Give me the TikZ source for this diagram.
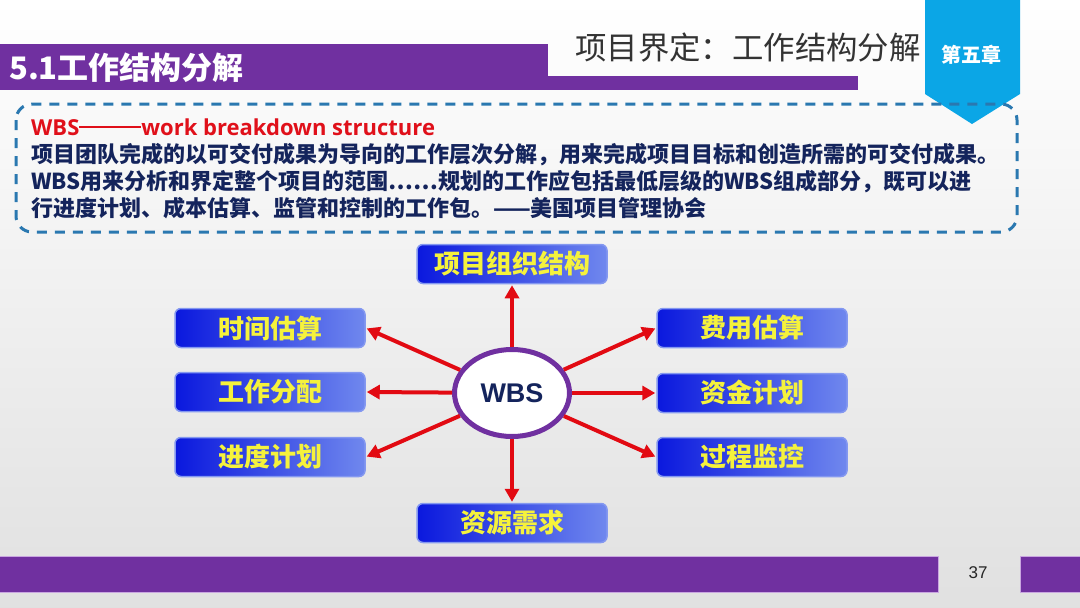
\documentclass[tikz,border=0pt]{standalone}
\usepackage{fontspec}
\setmainfont{Liberation Sans}
\newfontfamily\cjk{Noto Sans CJK SC}
\newfontfamily\latinb{Open Sans}
\usetikzlibrary{arrows.meta,shapes.geometric}
\definecolor{purp}{HTML}{7030A0}
\definecolor{purpedge}{HTML}{C9A6E0}
\definecolor{tabblue}{HTML}{0BA6E6}
\definecolor{dashcol}{HTML}{2A78B0}
\definecolor{navy}{HTML}{14245C}
\definecolor{redtxt}{HTML}{E0101A}
\definecolor{boxL}{HTML}{0A18DE}
\definecolor{boxR}{HTML}{7088EE}
\definecolor{boxB}{HTML}{8498F0}
\definecolor{ytxt}{HTML}{F5F23C}
\definecolor{arrred}{HTML}{E20A12}
\definecolor{titlegray}{HTML}{333333}
\tikzset{
  blbox/.style={rounded corners=6pt, minimum width=190pt, minimum height=39pt,
    left color=boxL, right color=boxR, draw=boxB, line width=1.5pt,
    font=\cjk\bfseries\fontsize{26}{26}\selectfont, text=ytxt, inner sep=0pt},
  redarr/.style={draw=arrred, line width=4pt, -{Triangle[length=13pt,width=14pt]}, shorten >=1pt},
  bodyline/.style={anchor=west, inner sep=0pt, text=navy, font=\cjk\bfseries\fontsize{22}{22}\selectfont}
}
\begin{document}
\begin{tikzpicture}[x=1pt,y=-1pt]
\useasboundingbox (0,0) rectangle (1080,608);
\shade[top color=white, bottom color=black!12] (0,0) rectangle (1080,608);
% title band
\fill[purp] (0,44) rectangle (548,90);
\fill[purp] (548,76) rectangle (858,90);
\node[anchor=west, inner sep=0pt, text=white, font=\cjk\bfseries\fontsize{31}{31}\selectfont] (sec) at (9,68) {5.1工作结构分解};
\node[anchor=west, inner sep=0pt, text=titlegray, font=\cjk\fontsize{31.4}{31.4}\selectfont] (ttl) at (575,48) {项目界定：工作结构分解};
% chapter tab
\fill[tabblue] (925,0) -- (1020,0) -- (1020,94) -- (972,124) -- (925,94) -- cycle;
\node[inner sep=0pt, text=white, font=\cjk\bfseries\fontsize{20}{20}\selectfont] (chap) at (971,55) {第五章};
% dashed box
\draw[dashcol, line width=3pt, dash pattern=on 10pt off 8pt, rounded corners=16pt] (16,104) rectangle (1017,232);
\node[anchor=west, inner sep=0pt, text=redtxt, font=\latinb\bfseries\fontsize{22}{22}\selectfont] (l1) at (31,127) {WBS\rule[0.33em]{62pt}{2.2pt}work breakdown structure};
\node[bodyline] (l2) at (31,155) {项目团队完成的以可交付成果为导向的工作层次分解，用来完成项目目标和创造所需的可交付成果。};
\node[bodyline] (l3) at (31,182) {WBS用来分析和界定整个项目的范围……规划的工作应包括最低层级的WBS组成部分，既可以进};
\node[bodyline] (l4) at (31,208) {行进度计划、成本估算、监管和控制的工作包。——美国项目管理协会};
% diagram
\node[ellipse, draw=purp, line width=5pt, fill=white, minimum width=115pt, minimum height=87pt, inner sep=0pt,
  text=navy, font=\bfseries\fontsize{27}{27}\selectfont] (wbs) at (512,393) {WBS};
\node[blbox] (top) at (512,264) {项目组织结构};
\node[blbox] (bot) at (512,523) {资源需求};
\node[blbox] (l1b) at (270,328) {时间估算};
\node[blbox] (l2b) at (270,392) {工作分配};
\node[blbox] (l3b) at (270,457) {进度计划};
\node[blbox] (r1b) at (752,328) {费用估算};
\node[blbox] (r2b) at (752,393) {资金计划};
\node[blbox] (r3b) at (752,457) {过程监控};
\draw[redarr] (wbs) -- (top.south);
\draw[redarr] (wbs) -- (bot.north);
\draw[redarr] (wbs) -- (l1b.east);
\draw[redarr] (wbs) -- (l2b.east);
\draw[redarr] (wbs) -- (l3b.east);
\draw[redarr] (wbs) -- (r1b.west);
\draw[redarr] (wbs) -- (r2b.west);
\draw[redarr] (wbs) -- (r3b.west);
% footer
\filldraw[fill=purp, draw=purpedge, line width=1pt] (-2,556) rectangle (938,592);
\filldraw[fill=purp, draw=purpedge, line width=1pt] (1020,556) rectangle (1082,592);
\node[inner sep=0pt, text=black!85, font=\fontsize{17}{17}\selectfont] (pg) at (978,573) {37};
\end{tikzpicture}
\end{document}
